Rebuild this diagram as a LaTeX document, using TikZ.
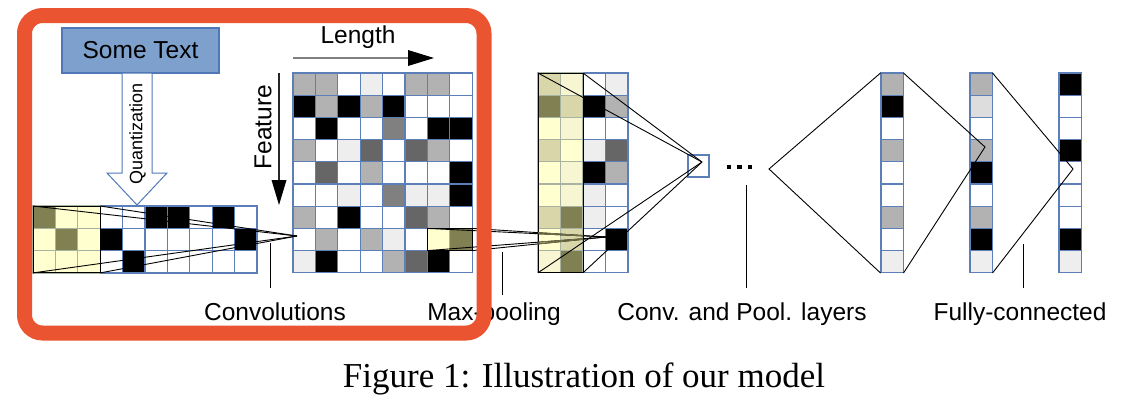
\documentclass[tikz,border=0pt]{standalone}
\usepackage{fontspec}
\setmainfont{Liberation Serif}
\newfontfamily\arialf{Liberation Sans}
\definecolor{A}{RGB}{178,178,178}
\definecolor{L}{RGB}{238,238,238}
\definecolor{D}{RGB}{102,102,102}
\definecolor{M}{RGB}{128,128,128}
\definecolor{G}{RGB}{221,221,221}
\definecolor{W}{RGB}{255,255,255}
\definecolor{B}{RGB}{0,0,0}
\definecolor{Y}{RGB}{255,255,208}
\definecolor{YL}{RGB}{247,245,210}
\definecolor{T}{RGB}{217,215,169}
\definecolor{O}{RGB}{128,128,82}
\definecolor{cellblue}{RGB}{92,127,186}
\definecolor{kbord}{RGB}{168,180,160}
\definecolor{boxfill}{RGB}{126,160,205}
\definecolor{boxline}{RGB}{80,120,185}
\definecolor{orangeC}{RGB}{234,84,48}
\definecolor{oliveline}{RGB}{110,110,70}
\newcommand\mkrow[6]{\foreach \c [count=\i from 0] in {#6}{\draw[#5,fill=\c] ({#1+\i*#3},{#2}) rectangle ++(#3,#4);}}
\newcommand\mkcol[5]{\foreach \c [count=\i from 0] in {#5}{\draw[cell,fill=\c] ({#1},{#2+\i*#4}) rectangle ++(#3,#4);}}
\tikzset{
  cell/.style={draw=cellblue,line width=1.3pt},
  kcell/.style={draw=kbord,line width=1.3pt},
  kframe/.style={draw=black,line width=1pt},
  conn/.style={draw=black,line width=0.9pt},
  tick/.style={draw=black,line width=1pt},
  lab/.style={font=\arialf\fontsize{24.5}{28}\selectfont,inner sep=0pt},
}
\begin{document}
\begin{tikzpicture}[x=1pt,y=-1pt]
\useasboundingbox (0,0) rectangle (1132,400);
% ---- Some Text box and Quantization arrow
\node[draw=boxline,fill=boxfill,line width=1.2pt,minimum width=157pt,minimum height=45pt,inner sep=0pt,font=\arialf\fontsize{24.5}{28}\selectfont] (txt) at (140.5,50.5) {Some Text};
\draw[draw=boxline,fill=white,line width=1pt] (122,73) -- (152,73) -- (152,173) -- (167,173) -- (137,205) -- (107,173) -- (122,173) -- cycle;
\node[rotate=90,font=\arialf\fontsize{18}{20}\selectfont,inner sep=0pt] (quant) at (137.5,134) {Quantization};
% ---- input grid
\mkrow{33}{206}{22.4}{22.3}{cell}{O,Y,Y,W,W,B,B,W,B,W}
\mkrow{33}{228.3}{22.4}{22.3}{cell}{Y,O,Y,B,W,W,W,W,W,B}
\mkrow{33}{250.6}{22.4}{22.3}{cell}{Y,Y,Y,W,B,W,W,W,W,W}
\mkrow{33}{206}{22.4}{22.3}{kcell}{O,Y,Y}
\mkrow{33}{228.3}{22.4}{22.3}{kcell}{Y,O,Y}
\mkrow{33}{250.6}{22.4}{22.3}{kcell}{Y,Y,Y}
\draw[kframe] (33,206) rectangle (100.2,272.9);
% ---- feature matrix
\mkrow{293}{73}{22.4}{22.2}{cell}{A,A,W,L,W,A,A,W}
\mkrow{293}{95.2}{22.4}{22.2}{cell}{B,A,B,A,B,W,W,W}
\mkrow{293}{117.4}{22.4}{22.2}{cell}{W,B,W,W,M,W,B,B}
\mkrow{293}{139.6}{22.4}{22.2}{cell}{A,W,L,D,W,D,A,W}
\mkrow{293}{161.8}{22.4}{22.2}{cell}{W,D,W,A,W,W,W,B}
\mkrow{293}{184}{22.4}{22.2}{cell}{W,W,L,W,M,L,L,B}
\mkrow{293}{206.2}{22.4}{22.2}{cell}{A,W,B,W,W,D,A,W}
\mkrow{293}{228.4}{22.4}{22.2}{cell}{W,A,W,A,L,W,Y,O}
\mkrow{293}{250.6}{22.4}{22.2}{cell}{L,B,W,W,A,D,B,W}
\mkrow{427.4}{228.4}{22.4}{22.2}{kcell}{Y,O}
\draw[kframe] (427.4,228.4) rectangle (472.2,250.6);
% ---- Length and Feature arrows
\coordinate (lenA) at (293,58);
\coordinate (lenB) at (408,58);
\coordinate (lenTip) at (434,58);
\draw[color=gray,line width=1.2pt] (lenA) -- (lenB);
\fill[black] (408,50) -- (lenTip) -- (408,66) -- cycle;
\node[lab] (length) at (358,37) {Length};
\coordinate (feaA) at (279,73);
\coordinate (feaB) at (279,180);
\coordinate (feaTip) at (279,205);
\draw[color=black!85,line width=1.2pt] (feaA) -- (feaB);
\fill[black] (271.5,180) -- (feaTip) -- (286.5,180) -- cycle;
\node[lab,rotate=90] (feature) at (263,127) {Feature};
% ---- max-pool stack
\mkrow{583}{73}{22.5}{22.2}{cell}{W,L}
\mkrow{583}{95.2}{22.5}{22.2}{cell}{B,A}
\mkrow{583}{117.4}{22.5}{22.2}{cell}{W,W}
\mkrow{583}{139.6}{22.5}{22.2}{cell}{L,D}
\mkrow{583}{161.8}{22.5}{22.2}{cell}{B,A}
\mkrow{583}{184}{22.5}{22.2}{cell}{L,W}
\mkrow{583}{206.2}{22.5}{22.2}{cell}{L,W}
\mkrow{583}{228.4}{22.5}{22.2}{cell}{W,B}
\mkrow{583}{250.6}{22.5}{22.2}{cell}{W,W}
\mkrow{538}{73}{22.5}{22.2}{kcell}{T,YL}
\mkrow{538}{95.2}{22.5}{22.2}{kcell}{O,T}
\mkrow{538}{117.4}{22.5}{22.2}{kcell}{Y,YL}
\mkrow{538}{139.6}{22.5}{22.2}{kcell}{T,Y}
\mkrow{538}{161.8}{22.5}{22.2}{kcell}{Y,YL}
\mkrow{538}{184}{22.5}{22.2}{kcell}{Y,YL}
\mkrow{538}{206.2}{22.5}{22.2}{kcell}{T,O}
\mkrow{538}{228.4}{22.5}{22.2}{kcell}{Y,T}
\mkrow{538}{250.6}{22.5}{22.2}{kcell}{YL,O}
\draw[kframe] (538,73) rectangle (583,272.8);
% ---- small box and fully connected columns
\node[draw=cellblue,line width=1.2pt,fill=white,minimum width=21pt,minimum height=22pt,inner sep=0pt] (pbox) at (698.5,166) {};
\mkcol{881}{73}{22.5}{22.2}{A,B,W,A,W,W,A,W,L}
\mkcol{970}{73}{22.5}{22.2}{A,G,W,A,B,W,A,B,L}
\mkcol{1059}{73}{22.5}{22.2}{B,W,W,B,W,W,W,B,L}
% ---- coordinates
\coordinate (p1) at (297,236);
\coordinate (p2) at (606,237);
\coordinate (p3) at (702,162);
\coordinate (p4) at (769,169);
\coordinate (p5) at (985,147);
\coordinate (p6) at (1073,169);
\coordinate (ik1) at (33,206);
\coordinate (ik2) at (100.2,206);
\coordinate (ik3) at (33,272.9);
\coordinate (ik4) at (100.2,272.9);
\coordinate (fk1) at (427.4,228.4);
\coordinate (fk2) at (472.2,228.4);
\coordinate (fk3) at (427.4,250.6);
\coordinate (fk4) at (472.2,250.6);
\coordinate (yk1) at (538,73);
\coordinate (yk2) at (583,73);
\coordinate (yk3) at (538,272.8);
\coordinate (yk4) at (583,272.8);
\coordinate (c3a) at (880.5,73);
\coordinate (c3b) at (880.5,273);
\coordinate (c4a) at (903.5,73);
\coordinate (c4b) at (903.5,273);
\coordinate (c5a) at (992.5,73);
\coordinate (c5b) at (992.5,273);
% ---- connectors
\foreach \k in {ik1,ik2,ik3,ik4} \draw[conn] (\k) -- (p1);
\foreach \k in {fk1,fk2,fk3,fk4} \draw[conn] (\k) -- (p2);
\begin{scope}
\clip (538,73) rectangle (583,272.8);
\foreach \k in {fk1,fk2,fk3,fk4} \draw[draw=oliveline,line width=0.9pt] (\k) -- (p2);
\end{scope}
\foreach \k in {yk1,yk2,yk3,yk4} \draw[conn] (\k) -- (p3);
\draw[conn] (c3a) -- (p4) -- (c3b);
\draw[conn] (c4a) -- (p5) -- (c4b);
\draw[conn] (c5a) -- (p6) -- (c5b);
% dots
\foreach \xx in {729,739.5,750} \fill[black] (\xx-2.2,164.8) rectangle ++(4.4,4.4);
% ---- ticks and labels
\node[lab,anchor=base] (lconv) at (275,320) {Convolutions};
\node[lab,anchor=base] (lpool) at (494,320) {Max-pooling};
\node[lab,anchor=base] (lcp) at (742,320) {Conv. and Pool. layers};
\node[lab,anchor=base] (lfc) at (1020,320) {Fully-connected};
\coordinate (t1a) at (270,243); \coordinate (t1b) at (270,288);
\coordinate (t2a) at (502,252); \coordinate (t2b) at (502,295);
\coordinate (t3a) at (746,185); \coordinate (t3b) at (746,288);
\coordinate (t4a) at (1023,244); \coordinate (t4b) at (1023,288);
\draw[tick] (t1a) -- (t1b);
\draw[tick] (t2a) -- (t2b);
\draw[tick] (t3a) -- (t3b);
\draw[tick] (t4a) -- (t4b);
% ---- orange frame
\draw[draw=orangeC,line width=15pt,rounded corners=18pt] (24.5,15.5) rectangle (484,333);
% ---- caption
\node[anchor=base,inner sep=0pt,font=\fontsize{35}{38}\selectfont] (cap) at (584,387) {Figure 1: Illustration of our model};
\end{tikzpicture}
\end{document}
